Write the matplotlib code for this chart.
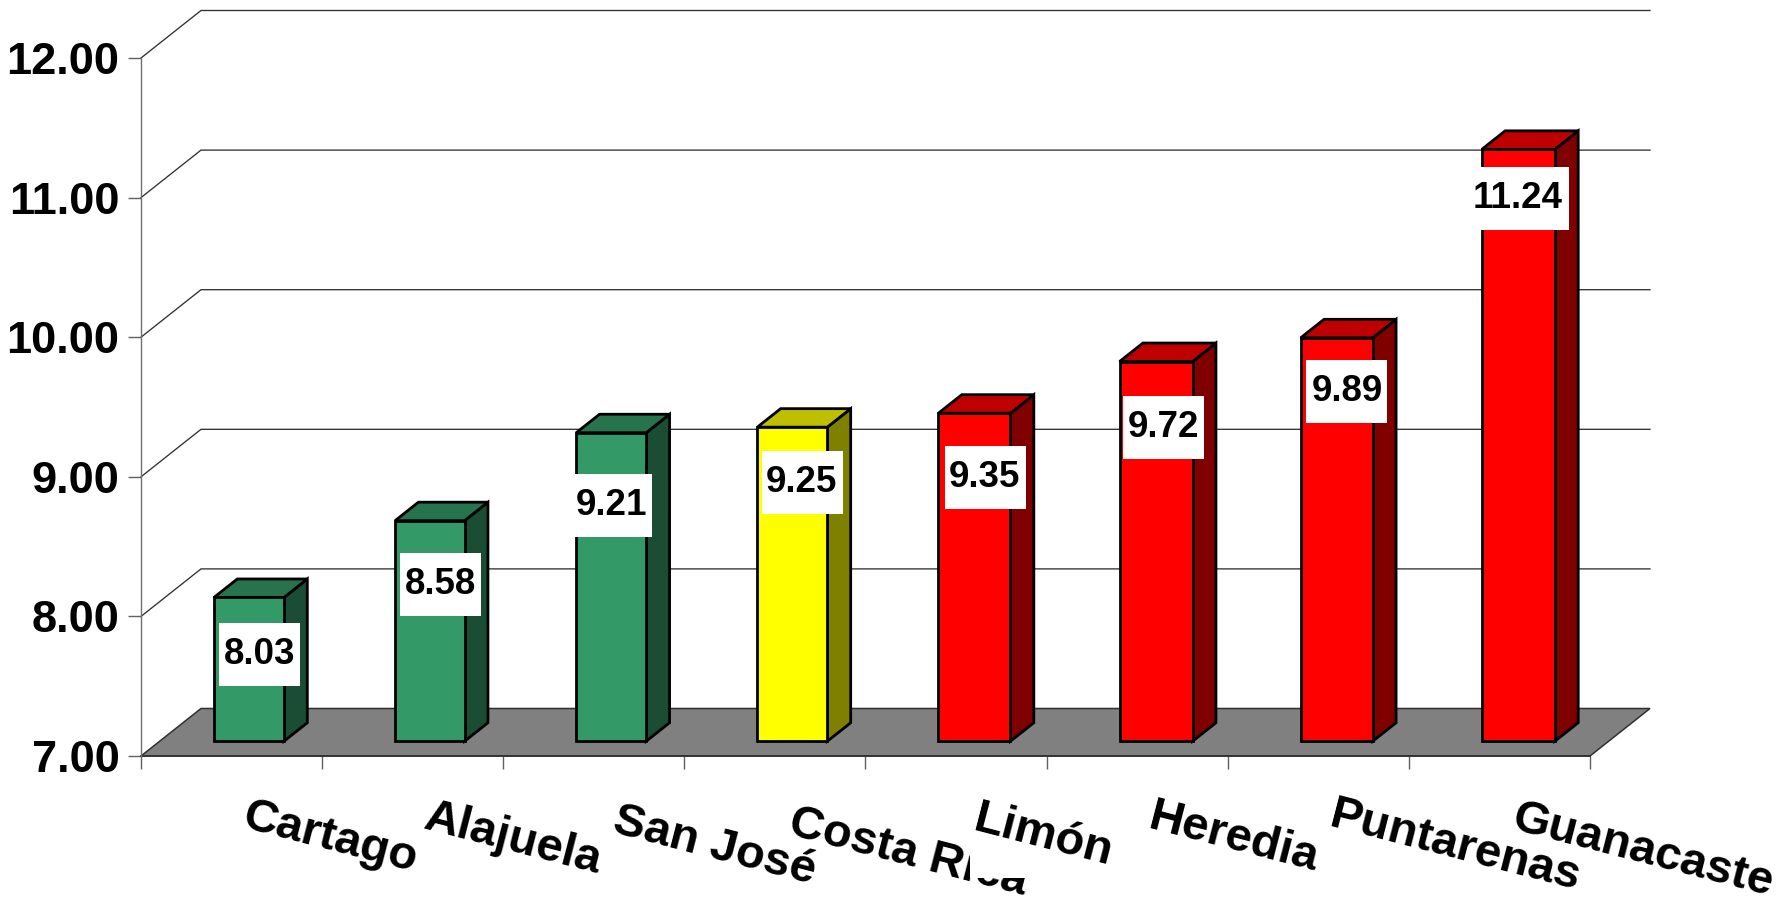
import matplotlib
matplotlib.use("Agg")
import matplotlib.pyplot as plt
from matplotlib.patches import Polygon, Rectangle

# ---------- data ----------
categories = ["Cartago", "Alajuela", "San José", "Costa Rica", "Limón",
              "Heredia", "Puntarenas", "Guanacaste"]
values = [8.03, 8.58, 9.21, 9.25, 9.35, 9.72, 9.89, 11.24]
y_ticks = [7, 8, 9, 10, 11, 12]
value_groups = ["g", "g", "g", "y", "r", "r", "r", "r"]

# ---------- style ----------
W, H = 1781, 901
L, R, B, T = 141, 1590, 756, 58        # plot box, pixels from top-left
plt.rcParams["font.family"] = ["Liberation Sans", "DejaVu Sans"]
plt.rcParams["font.weight"] = "bold"
palette = {
    "g": ("#339966", "#26734D", "#1A4D33"),
    "y": ("#FFFF00", "#BFBF00", "#808000"),
    "r": ("#FF0000", "#BF0000", "#800000"),
}
# manual label offsets and widths in pixels (style, not data)
bar_widths_px = [70, 69.5, 70, 70, 72, 73, 72, 73]
box_offsets = [(9, 57), (9, 64), (-1, 73), (9, 55), (11, 64), (8, 66), (10, 54), (6, 49)]
text_shifts = [0, 0, 0, -1, -1, 0, 0, -6]
cat_offsets = [(98, -82), (100, -83), (121, -90), (133, -97), (87, -80), (97, -82), (137, -91), (143, -95)]

fig = plt.figure(figsize=(W / 100, H / 100), dpi=100, facecolor="white")
ax = fig.add_axes([L / W, (H - B) / H, (R - L) / W, (B - T) / H])
ax.set_xlim(0, len(categories))
ax.set_ylim(y_ticks[0], y_ticks[-1])
ax.patch.set_visible(False)

px_x = (R - L) / len(categories)
px_y = (B - T) / (y_ticks[-1] - y_ticks[0])
DX, DY = 60 / px_x, 47.5 / px_y        # full depth, in data units
D0, D1 = 0.31, 0.70                    # bar depth extent
BAR_W0 = 72.5 / px_x


def proj(x, y, d=0.0):
    return (x + d * DX, y + d * DY)


y0 = y_ticks[0]
n = len(categories)

# walls / gridlines
for v in y_ticks[1:]:
    ax.plot(*zip(proj(0, v), proj(0, v, 1), proj(n, v, 1)), color="#303030", lw=0.95,
            clip_on=False, zorder=1, solid_joinstyle="miter")

# floor
ax.add_patch(Polygon([proj(0, y0), proj(n, y0), proj(n, y0, 1), proj(0, y0, 1)],
                     closed=True, facecolor="#808080", edgecolor="#303030", lw=1.1,
                     clip_on=False, zorder=2))

# bars
for i, (v, grp) in enumerate(zip(values, value_groups)):
    front, top, side = palette[grp]
    xc = i + 0.5 + D0 * DX
    x0 = xc - BAR_W0 / 2
    x1 = x0 + bar_widths_px[i] / px_x
    yb = y0 + D0 * DY
    yt = v + D0 * DY
    dd = D1 - D0
    kw = dict(closed=True, edgecolor="black", lw=2.0, clip_on=False, zorder=3 + i * 0.01,
              joinstyle="miter")
    ax.add_patch(Polygon([proj(x1, yb), proj(x1, yb, dd), proj(x1, yt, dd), proj(x1, yt)],
                         facecolor=side, **kw))
    ax.add_patch(Polygon([proj(x0, yt), proj(x1, yt), proj(x1, yt, dd), proj(x0, yt, dd)],
                         facecolor=top, **kw))
    ax.add_patch(Polygon([(x0, yb), (x1, yb), (x1, yt), (x0, yt)], facecolor=front, **kw))

# value labels
for i, v in enumerate(values):
    ox, oy = box_offsets[i]
    xc = i + 0.5 + D0 * DX + ox / px_x
    yc = v + D0 * DY - oy / px_y
    label = f"{v:.2f}"
    bw = (89 if len(label) > 4 else 81) / px_x
    bh = 63 / px_y
    ax.add_patch(Rectangle((xc - bw / 2, yc - bh / 2), bw, bh, facecolor="white",
                           edgecolor="none", clip_on=False, zorder=5))
    ax.text(xc + text_shifts[i] / px_x, yc, label, ha="center", va="center", fontsize=26.5,
            color="black", clip_on=False, zorder=6)

# axes furniture
for s in ("top", "right"):
    ax.spines[s].set_visible(False)
ax.spines["left"].set_color("#707070")
ax.spines["left"].set_linewidth(1.0)
ax.spines["bottom"].set_color("#303030")
ax.spines["bottom"].set_linewidth(1.2)
ax.spines["left"].set_zorder(4)
ax.spines["bottom"].set_zorder(2.5)
ax.set_yticks(y_ticks)
ax.set_yticklabels([f"{v:.2f}" for v in y_ticks], fontsize=32.5, fontweight="bold")
ax.set_xticks(range(n + 1))
ax.set_xticklabels([])
ax.tick_params(axis="both", length=9.4, width=1.0, color="#606060", pad=6)

# category labels, drawn in order; "Costa Rica" is partly hidden in the reference
for i, name in enumerate(categories):
    ox, oy = cat_offsets[i]
    ax.annotate(name, xy=(i + 0.5, y0), xytext=(ox, oy), xycoords="data",
                textcoords="offset pixels", ha="center", va="center",
                rotation=-14.5, fontsize=34, fontweight="bold", color="black",
                annotation_clip=False, zorder=7 + i * 0.01)
    if name == "Costa Rica":
        cover_x = (970 - L) / px_x
        cover_y = y0 - (878 - B) / px_y
        ax.add_patch(Rectangle((cover_x, cover_y), 67 / px_x, 40 / px_y, facecolor="white",
                               edgecolor="none", clip_on=False, zorder=7 + i * 0.01 + 0.001))

fig.savefig("out.png", dpi=100, facecolor="white")
